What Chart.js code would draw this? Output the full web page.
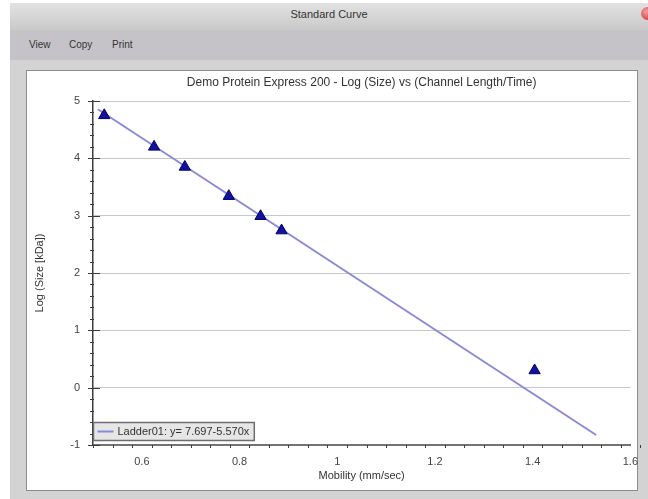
<!DOCTYPE html>
<html>
<head>
<meta charset="utf-8">
<script src="https://cdn.jsdelivr.net/npm/chart.js@4.4.1/dist/chart.umd.min.js"></script>
<style>
  html, body { margin:0; padding:0; background:#ffffff; }
  body { width:648px; height:499px; position:relative; overflow:hidden; font-family:"Liberation Sans", Arial, sans-serif; }
  #frame { position:absolute; left:10px; top:3px; width:638px; height:496px; background:#d3d3d3; }
  #titlebar { position:absolute; left:0; top:0; width:638px; height:27px;
    background:linear-gradient(#e2e2e2, #c9c9c9); color:#333; font-size:11px; text-align:center; line-height:22px; }
  #close { position:absolute; right:-6px; top:4px; width:13px; height:13px; border-radius:50%;
    background:radial-gradient(circle at 40% 35%, #f4a0a0, #c62a2a); }
  #menubar { position:absolute; left:0; top:27px; width:638px; height:30px; background:#c6c3c8; font-size:10px; color:#333; }
  #menubar span { position:absolute; top:9px; }
  #panel { position:absolute; left:16px; top:67px; width:610px; height:419px; background:#ffffff; border:1px solid #8c8c8c; }
  canvas { position:absolute; left:0; top:0; }
</style>
</head>
<body>
<div id="frame">
  <div id="titlebar">Standard Curve<div id="close"></div></div>
  <div id="menubar"><span style="left:19px">View</span><span style="left:59px">Copy</span><span style="left:102px">Print</span></div>
  <div id="panel"></div>
</div>
<canvas id="c" width="648" height="499"></canvas>
<script>
// ---- data ----
const mobility = [0.523, 0.625, 0.688, 0.778, 0.843, 0.886, 1.404];
const logSize  = [4.75, 4.20, 3.85, 3.34, 2.99, 2.74, 0.30];
const fitX = [0.51, 1.53];
const fitY = [4.856, -0.825];
const xTicks = [0.6, 0.8, 1, 1.2, 1.4, 1.6];
const yTicks = [-1, 0, 1, 2, 3, 4, 5];
const legendText = 'Ladder01: y= 7.697-5.570x';
const chartTitle = 'Demo Protein Express 200 - Log (Size) vs (Channel Length/Time)';
const xTitle = 'Mobility (mm/sec)';
const yTitle = 'Log (Size [kDa])';
const xMinorStep = 0.04;
const yMinorStep = 0.2;

const FONT = '"Liberation Sans", Arial, sans-serif';

const ticksPlugin = {
  id: 'axisTicks',
  afterDraw(chart) {
    const {ctx, scales: {x, y}, chartArea: a} = chart;
    ctx.save();
    ctx.strokeStyle = '#3c3c3c';
    ctx.lineWidth = 1;
    // y axis ticks
    const nY = Math.round((y.max - y.min) / yMinorStep);
    for (let i = 0; i <= nY; i++) {
      const v = y.min + i * yMinorStep;
      const py = Math.round(y.getPixelForValue(v)) + 0.5;
      const major = Math.abs(v - Math.round(v)) < 1e-6;
      ctx.beginPath();
      if (major) { ctx.moveTo(a.left - 5, py); ctx.lineTo(a.left + 7, py); }
      else { ctx.moveTo(a.left - 3, py); ctx.lineTo(a.left + 1, py); }
      ctx.stroke();
    }
    // x axis ticks
    const nX = Math.round((x.max - x.min) / xMinorStep);
    for (let i = 0; i <= nX; i++) {
      const v = x.min + i * xMinorStep;
      const px = Math.round(x.getPixelForValue(v)) + 0.5;
      const major = xTicks.some(t => Math.abs(t - v) < 1e-6);
      ctx.beginPath();
      if (major) { ctx.lineWidth = 1.5; ctx.moveTo(px, a.bottom - 4); ctx.lineTo(px, a.bottom + 5); }
      else { ctx.lineWidth = 1; ctx.moveTo(px, a.bottom); ctx.lineTo(px, a.bottom + 3); }
      ctx.stroke();
    }
    // legend box
    ctx.font = '11px ' + FONT;
    const tw = ctx.measureText(legendText).width;
    const bx = a.left + 0.5, by = a.bottom - 22.5, bw = 24 + tw + 5, bh = 18;
    ctx.fillStyle = '#e6e6e6';
    ctx.fillRect(bx, by, bw, bh);
    ctx.strokeStyle = '#6e6e6e';
    ctx.lineWidth = 1.5;
    ctx.strokeRect(bx, by, bw, bh);
    ctx.strokeStyle = '#8a8ad8';
    ctx.lineWidth = 2;
    ctx.beginPath();
    ctx.moveTo(bx + 4, by + bh / 2); ctx.lineTo(bx + 20, by + bh / 2);
    ctx.stroke();
    ctx.fillStyle = '#333333';
    ctx.textBaseline = 'middle';
    ctx.fillText(legendText, bx + 24, by + bh / 2 + 0.5);
    ctx.restore();
  }
};

new Chart(document.getElementById('c'), {
  data: {
    datasets: [
      {
        type: 'line',
        data: fitX.map((v, i) => ({x: v, y: fitY[i]})),
        borderColor: '#8a8ad8',
        borderWidth: 2,
        pointRadius: 0,
        fill: false,
        order: 2
      },
      {
        type: 'scatter',
        data: mobility.map((v, i) => ({x: v, y: logSize[i]})),
        pointStyle: 'triangle',
        pointRadius: 6.5,
        pointHoverRadius: 6.5,
        backgroundColor: '#12129a',
        borderColor: '#000070',
        borderWidth: 1,
        order: 1
      }
    ]
  },
  options: {
    responsive: false,
    animation: false,
    events: [],
    layout: { padding: { left: 0, right: 15, top: 0, bottom: 0 } },
    plugins: {
      legend: { display: false },
      tooltip: { enabled: false },
      title: {
        display: true,
        text: chartTitle,
        fullSize: false,
        color: '#333333',
        font: { family: FONT, size: 12, weight: 'normal' },
        padding: { top: 75.8, bottom: 10.8 }
      }
    },
    scales: {
      x: {
        type: 'linear',
        min: 0.5,
        max: 1.6,
        afterBuildTicks: s => { s.ticks = xTicks.map(v => ({value: v})); },
        afterFit: s => { s.height = 54; },
        grid: { drawOnChartArea: false, drawTicks: false },
        border: { display: true, color: '#737373', width: 2 },
        ticks: { padding: 10, color: '#444444', font: { family: FONT, size: 11 }, callback: v => String(v), maxRotation: 0 },
        title: { display: true, text: xTitle, color: '#333333', font: { family: FONT, size: 11 }, padding: { top: 0, bottom: 16.4 } }
      },
      y: {
        type: 'linear',
        min: -1,
        max: 5,
        afterBuildTicks: s => { s.ticks = yTicks.map(v => ({value: v})); },
        afterFit: s => { s.width = 93; },
        grid: { color: '#c8c8c8', lineWidth: 1, drawTicks: false },
        border: { display: true, color: '#3c3c3c', width: 1.5 },
        ticks: { padding: 13, color: '#444444', font: { family: FONT, size: 11 }, callback: v => String(v) },
        title: { display: true, text: yTitle, color: '#333333', font: { family: FONT, size: 11 }, padding: { top: 33.4, bottom: 0 } }
      }
    }
  },
  plugins: [ticksPlugin]
});
</script>
</body>
</html>
